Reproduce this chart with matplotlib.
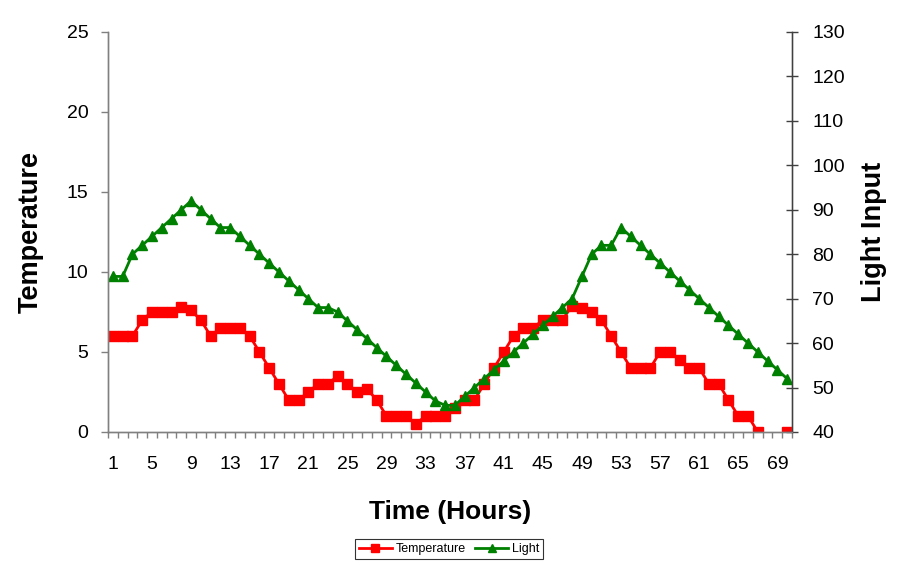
import numpy as np
import matplotlib.pyplot as plt
from matplotlib.ticker import FixedLocator, NullFormatter

plt.rcParams['font.family'] = ['Liberation Sans', 'DejaVu Sans']

# 数据：时间（小时）、温度、光照
hours = np.arange(1, 71)
temperature = [6, 6, 6, 7, 7.5, 7.5, 7.5, 7.8, 7.6, 7,
               6, 6.5, 6.5, 6.5, 6, 5, 4, 3, 2, 2,
               2.5, 3, 3, 3.5, 3, 2.5, 2.7, 2, 1, 1,
               1, 0.5, 1, 1, 1, 1.5, 2, 2, 3, 4,
               5, 6, 6.5, 6.5, 7, 7, 7, 7.9, 7.75, 7.5,
               7, 6, 5, 4, 4, 4, 5, 5, 4.5, 4,
               4, 3, 3, 2, 1, 1, 0, np.nan, np.nan, 0]
light = [75, 75, 80, 82, 84, 86, 88, 90, 92, 90,
         88, 86, 86, 84, 82, 80, 78, 76, 74, 72,
         70, 68, 68, 67, 65, 63, 61, 59, 57, 55,
         53, 51, 49, 47, 46, 46, 48, 50, 52, 54,
         56, 58, 60, 62, 64, 66, 68, 70, 75, 80,
         82, 82, 86, 84, 82, 80, 78, 76, 74, 72,
         70, 68, 66, 64, 62, 60, 58, 56, 54, 52]
x_labels = list(range(1, 71, 4))

fig = plt.figure(figsize=(9.11, 5.69), dpi=100)
ax1 = fig.add_axes([108 / 911, 1 - 432 / 569, (792 - 108) / 911, 400 / 569])
ax2 = ax1.twinx()

l1, = ax1.plot(hours, temperature, color='#FF0000', lw=2, marker='s', ms=6.5,
               mec='#FF0000', mfc='#FF0000', label='Temperature')
l2, = ax2.plot(hours, light, color='#008000', lw=2, marker='^', ms=6.5,
               mec='#008000', mfc='#008000', label='Light')

# 坐标轴范围
ax1.set_xlim(0.5, 70.5)
ax1.set_ylim(0, 25)
ax2.set_ylim(40, 130)
ax1.set_yticks(np.arange(0, 26, 5))
ax2.set_yticks(np.arange(40, 131, 10))

# 类别轴：刻度在类别之间，标签每隔4个
ax1.set_xticks(x_labels)
ax1.set_xticklabels([str(v) for v in x_labels])
ax1.xaxis.set_minor_locator(FixedLocator(np.arange(0.5, 71, 1)))
ax1.xaxis.set_minor_formatter(NullFormatter())
ax1.tick_params(axis='x', which='major', length=0, pad=17, labelsize=14)
ax1.tick_params(axis='x', which='minor', length=4.5, width=1, color='#808080', direction='out')
ax1.tick_params(axis='y', length=5, width=1, color='#808080', pad=9, labelsize=14)
ax2.tick_params(axis='y', direction='inout', length=9, width=1, color='#404040', pad=10, labelsize=14)

for ax in (ax1, ax2):
    ax.spines['top'].set_visible(False)
    for s in ('left', 'right', 'bottom'):
        ax.spines[s].set_color('#808080')
        ax.spines[s].set_linewidth(1)
ax2.spines['right'].set_color('#404040')

ax1.set_xlabel('Time (Hours)', fontsize=19, fontweight='bold', labelpad=20)
ax1.set_ylabel('Temperature', fontsize=19.5, fontweight='bold')
ax2.set_ylabel('Light Input', fontsize=19.5, fontweight='bold')
ax1.yaxis.set_label_coords(-(108 - 44) / 684, 0.5)
ax2.yaxis.set_label_coords(1 + (861 - 792) / 684, 0.5)

leg = fig.legend(handles=[l1, l2], loc='center', bbox_to_anchor=(449 / 911, 1 - 549 / 569),
                 ncol=2, fontsize=9, frameon=True, fancybox=False, edgecolor='black',
                 handlelength=2.6, handletextpad=0.3, columnspacing=0.8,
                 borderpad=0.35, numpoints=1, markerscale=0.8)
leg.get_frame().set_linewidth(0.8)

fig.savefig('out.png', dpi=100)
